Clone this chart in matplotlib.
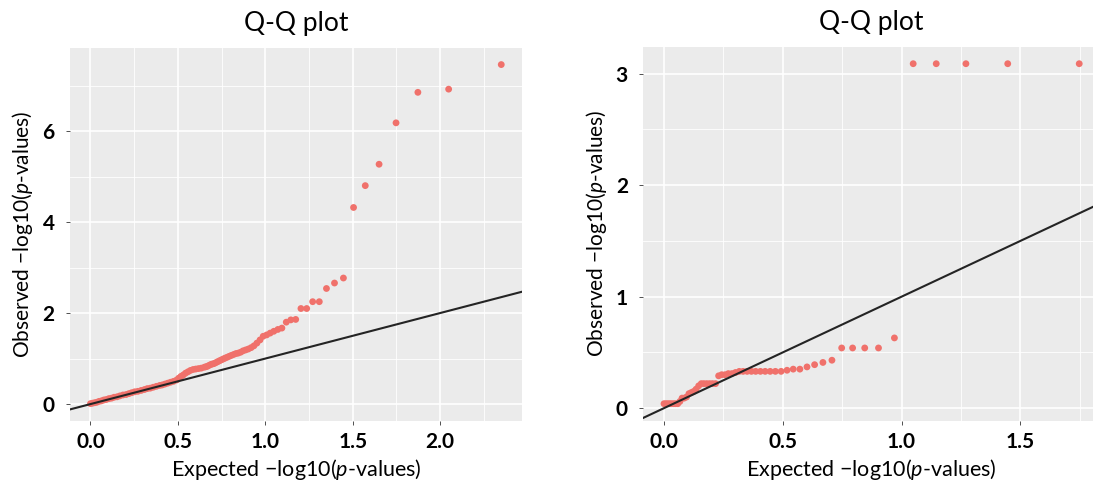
import matplotlib
matplotlib.use("Agg")
import matplotlib.pyplot as plt

# ---------------- data ----------------
# Left panel: expected vs observed -log10(p)
left_expected = [2.350, 2.049, 1.873, 1.748, 1.651, 1.572, 1.505, 1.447, 1.396, 1.350,
                 1.309, 1.271, 1.237, 1.204, 1.174, 1.146, 1.120, 1.095, 1.072, 1.049,
                 1.028, 1.008, 0.988, 0.970, 0.952, 0.935, 0.919, 0.903, 0.888, 0.873,
                 0.859, 0.845, 0.832, 0.819, 0.806, 0.794, 0.782, 0.770, 0.759, 0.748,
                 0.737, 0.727, 0.717, 0.707, 0.697, 0.688, 0.678, 0.669, 0.660, 0.651,
                 0.634, 0.618, 0.602, 0.587, 0.572, 0.558, 0.544, 0.531, 0.518, 0.505,
                 0.493, 0.475, 0.458, 0.442, 0.426, 0.410, 0.396, 0.377, 0.359, 0.342,
                 0.325, 0.309, 0.290, 0.271, 0.253, 0.236, 0.220, 0.204, 0.186, 0.168,
                 0.152, 0.135, 0.120, 0.105, 0.090, 0.076, 0.062, 0.049, 0.036, 0.024,
                 0.012, 0.000]
left_observed = [7.46, 6.92, 6.85, 6.18, 5.27, 4.80, 4.32, 2.77, 2.66, 2.54,
                 2.25, 2.25, 2.10, 2.10, 1.86, 1.85, 1.80, 1.67, 1.64, 1.60,
                 1.56, 1.52, 1.49, 1.41, 1.34, 1.28, 1.24, 1.21, 1.19, 1.17,
                 1.14, 1.12, 1.11, 1.09, 1.07, 1.05, 1.03, 1.01, 0.99, 0.97,
                 0.95, 0.93, 0.91, 0.89, 0.88, 0.87, 0.85, 0.83, 0.82, 0.81,
                 0.79, 0.78, 0.77, 0.76, 0.74, 0.71, 0.68, 0.64, 0.61, 0.57,
                 0.53, 0.50, 0.48, 0.46, 0.44, 0.42, 0.41, 0.39, 0.37, 0.35,
                 0.34, 0.32, 0.30, 0.28, 0.27, 0.25, 0.23, 0.21, 0.20, 0.18,
                 0.16, 0.15, 0.13, 0.12, 0.10, 0.09, 0.07, 0.06, 0.04, 0.03,
                 0.02, 0.01]

# Right panel
right_expected = [1.748, 1.447, 1.271, 1.146, 1.049, 0.970, 0.903, 0.845, 0.794, 0.748,
                  0.707, 0.669, 0.634, 0.602, 0.572, 0.544, 0.518, 0.493, 0.469, 0.447,
                  0.426, 0.406, 0.386, 0.368, 0.350, 0.333, 0.317, 0.301, 0.286, 0.271,
                  0.257, 0.243, 0.230, 0.217, 0.204, 0.192, 0.180, 0.168, 0.157, 0.146,
                  0.135, 0.125, 0.115, 0.105, 0.095, 0.085, 0.076, 0.067, 0.058, 0.049,
                  0.041, 0.032, 0.024, 0.016, 0.008, 0.000]
right_observed = [3.09, 3.09, 3.09, 3.09, 3.09, 0.63, 0.54, 0.54, 0.54, 0.54,
                  0.43, 0.41, 0.39, 0.37, 0.35, 0.35, 0.34, 0.33, 0.33, 0.33,
                  0.33, 0.33, 0.33, 0.33, 0.33, 0.33, 0.33, 0.32, 0.31, 0.31,
                  0.30, 0.30, 0.29, 0.22, 0.22, 0.22, 0.22, 0.22, 0.22, 0.20,
                  0.17, 0.15, 0.14, 0.13, 0.10, 0.09, 0.09, 0.06, 0.04, 0.04,
                  0.04, 0.04, 0.04, 0.04, 0.04, 0.04]

title_text = "Q-Q plot"
xlabel_text = "Expected \u2212log10($\\it{p}$-values)"
ylabel_text = "Observed \u2212log10($\\it{p}$-values)"

left_xticks = [0.0, 0.5, 1.0, 1.5, 2.0]
left_yticks = [0, 2, 4, 6]
right_xticks = [0.0, 0.5, 1.0, 1.5]
right_yticks = [0, 1, 2, 3]

# ---------------- style ----------------
plt.rcParams['font.family'] = ['Lato', 'DejaVu Sans']
plt.rcParams['mathtext.fontset'] = 'custom'
plt.rcParams['mathtext.it'] = 'Lato:italic'
plt.rcParams['mathtext.rm'] = 'Lato'

PANEL = '#EBEBEB'
POINT = '#F0716B'
LINE = '#242424'

fig = plt.figure(figsize=(10.93, 4.84), dpi=100)
fig.patch.set_facecolor('white')

axL = fig.add_axes([0.0640, 0.1300, 0.4134, 0.7717])
axR = fig.add_axes([0.5885, 0.1308, 0.4179, 0.7727])


def style(ax, xt, yt, xlim, ylim):
    ax.set_facecolor(PANEL)
    ax.set_xticks(xt)
    ax.set_yticks(yt)
    ax.set_xticklabels([f"{v:.1f}" for v in xt])
    ax.set_yticklabels([f"{v:d}" for v in yt])
    xm = [(a + b) / 2 for a, b in zip(xt[:-1], xt[1:])] + [xt[-1] + (xt[1] - xt[0]) / 2]
    ym = [(a + b) / 2 for a, b in zip(yt[:-1], yt[1:])] + [yt[-1] + (yt[1] - yt[0]) / 2]
    ax.set_xticks(xm, minor=True)
    ax.set_yticks(ym, minor=True)
    ax.set_xlim(*xlim)
    ax.set_ylim(*ylim)
    ax.grid(which='major', color='white', linewidth=1.2)
    ax.grid(which='minor', color='white', linewidth=0.6)
    ax.set_axisbelow(True)
    for s in ax.spines.values():
        s.set_visible(False)
    ax.tick_params(which='major', length=3, width=0.6, color='#333333',
                   labelsize=15, labelcolor='black')
    ax.tick_params(which='minor', length=0)
    ax.tick_params(axis='x', pad=5)
    ax.tick_params(axis='y', pad=8)
    for lab in ax.get_xticklabels() + ax.get_yticklabels():
        lab.set_fontweight('bold')
    ax.set_title(title_text, fontsize=19, pad=12)
    ax.set_xlabel(xlabel_text, fontsize=15.5, labelpad=3.5)
    ax.set_ylabel(ylabel_text, fontsize=15, labelpad=5)


style(axL, left_xticks, left_yticks, (-0.1175, 2.4675), (-0.3735, 7.8335))
style(axR, right_xticks, right_yticks, (-0.0874, 1.8354), (-0.1125, 3.2425))

for ax, xs, ys in [(axL, left_expected, left_observed),
                   (axR, right_expected, right_observed)]:
    ax.scatter(xs, ys, s=24, color=POINT, edgecolors='none', zorder=2)
    ax.axline((0, 0), slope=1, color=LINE, linewidth=1.5, zorder=3)

fig.savefig('out.png', dpi=100)
